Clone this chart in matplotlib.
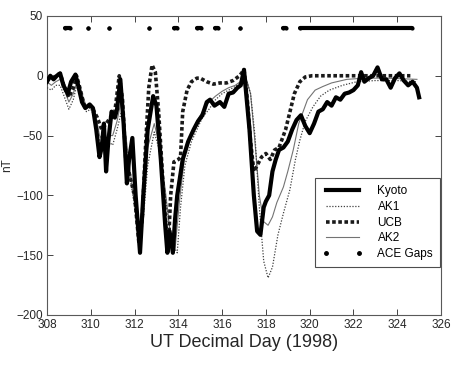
import matplotlib
matplotlib.use('Agg')
import matplotlib.pyplot as plt
from matplotlib.lines import Line2D

plt.rcParams['font.family'] = ['Liberation Sans', 'DejaVu Sans']

# Kyoto Dst
kyoto_t = [308.0, 308.15, 308.3, 308.45, 308.6, 308.75, 308.95, 309.1, 309.3, 309.45,
           309.6, 309.75, 309.95, 310.1, 310.25, 310.4, 310.5, 310.6, 310.7, 310.8,
           310.95, 311.1, 311.2, 311.35, 311.5, 311.65, 311.75, 311.9, 312.05, 312.25,
           312.4, 312.6, 312.85, 313.0, 313.2, 313.4, 313.5, 313.6, 313.75, 313.85,
           313.95, 314.2, 314.45, 314.7, 314.9, 315.1, 315.3, 315.45, 315.65, 315.9,
           316.1, 316.3, 316.5, 316.7, 316.85, 317.0, 317.1, 317.25, 317.45, 317.6,
           317.75, 317.9, 318.0, 318.15, 318.3, 318.45, 318.6, 318.8, 319.0, 319.2,
           319.4, 319.6, 319.8, 320.0, 320.2, 320.4, 320.6, 320.8, 321.0, 321.2,
           321.4, 321.6, 321.8, 322.0, 322.2, 322.35, 322.5, 322.7, 322.9, 323.1,
           323.3, 323.5, 323.7, 323.9, 324.1, 324.3, 324.5, 324.7, 324.9, 325.0]
kyoto_v = [-5, 0, -3, 0, 2, -8, -15, -5, 1, -10,
           -22, -27, -24, -27, -45, -68, -60, -40, -80, -55,
           -30, -35, -28, -3, -40, -90, -70, -52, -100, -148,
           -100, -45, -17, -25, -70, -125, -148, -130, -148, -120,
           -100, -70, -55, -45, -38, -33, -22, -20, -25, -22,
           -26, -15, -14, -10, -8, 5, -15, -45, -100, -130,
           -133, -110, -105, -100, -80, -70, -62, -60, -55, -45,
           -37, -33, -42, -48, -40, -30, -28, -22, -25, -18,
           -20, -15, -14, -12, -8, 3, -5, -2, 0, 7,
           -3, -3, -10, -2, 2, -4, -8, -5, -10, -18]

# AK1 model
ak1_t = [308.0, 308.2, 308.4, 308.6, 308.8, 309.0, 309.2, 309.4, 309.6, 309.8,
         310.0, 310.2, 310.4, 310.6, 310.8, 311.0, 311.2, 311.4, 311.6, 311.8,
         312.0, 312.2, 312.4, 312.6, 312.9, 313.1, 313.4, 313.7, 313.95, 314.1,
         314.3, 314.6, 314.85, 315.1, 315.4, 315.7, 316.0, 316.3, 316.6, 316.9,
         317.1, 317.3, 317.5, 317.7, 317.9, 318.1, 318.3, 318.55, 318.8, 319.1,
         319.35, 319.55, 319.8, 320.15, 320.5, 320.9, 321.5, 322.15, 323.0, 324.0, 324.9]
ak1_v = [-10, -12, -8, -8, -18, -28, -20, -5, -18, -30,
         -28, -35, -55, -60, -55, -58, -45, -30, -55, -85,
         -110, -140, -120, -75, -47, -60, -100, -140, -148, -110,
         -75, -55, -45, -35, -28, -20, -15, -12, -9, -5,
         -3, -15, -50, -110, -155, -169, -160, -133, -115, -95,
         -70, -54, -38, -26, -17, -12, -8, -5, -4, -4, -5]

# UCB model
ucb_t = [308.0, 308.2, 308.4, 308.6, 308.8, 309.0, 309.2, 309.35, 309.5, 309.7,
         309.9, 310.1, 310.3, 310.5, 310.7, 310.9, 311.1, 311.3, 311.45, 311.6,
         311.8, 312.0, 312.2, 312.35, 312.5, 312.65, 312.8, 312.95, 313.1, 313.3,
         313.45, 313.55, 313.65, 313.8, 314.0, 314.1, 314.2, 314.4, 314.6, 314.85,
         315.0, 315.3, 315.6, 315.9, 316.2, 316.5, 316.8, 317.0, 317.15, 317.3,
         317.45, 317.6, 317.8, 318.0, 318.2, 318.4, 318.6, 318.9, 319.1, 319.3,
         319.55, 319.8, 320.1, 321.0, 322.0, 323.0, 324.0, 324.6]
ucb_v = [-2, -3, 0, 2, -10, -18, -10, 0, -10, -25,
         -25, -28, -35, -45, -40, -35, -30, 0, -20, -70,
         -85, -100, -140, -120, -60, -10, 9, 3, -30, -90,
         -130, -140, -100, -72, -70, -68, -30, -12, -5, -2,
         -2, -5, -7, -6, -6, -4, 0, 5, -20, -55,
         -80, -75, -68, -65, -70, -62, -60, -45, -30, -15,
         -5, -1, 0, 0, 0, 0, 0, 0]

# AK2 model
ak2_t = [308.0, 308.2, 308.4, 308.6, 308.8, 309.0, 309.2, 309.4, 309.6, 309.8,
         310.0, 310.2, 310.4, 310.6, 310.8, 311.0, 311.2, 311.4, 311.6, 311.8,
         312.0, 312.2, 312.4, 312.6, 312.9, 313.1, 313.4, 313.65, 313.85, 314.05,
         314.3, 314.6, 314.85, 315.1, 315.4, 315.7, 316.0, 316.3, 316.6, 316.9,
         317.1, 317.3, 317.5, 317.7, 317.9, 318.1, 318.3, 318.5, 318.8, 319.0,
         319.25, 319.5, 319.9, 320.25, 320.6, 321.0, 321.7, 322.5, 323.5, 324.9]
ak2_v = [-5, -8, -5, -3, -12, -22, -15, -3, -15, -26,
         -25, -30, -50, -55, -50, -50, -38, -20, -50, -80,
         -105, -135, -110, -60, -40, -55, -95, -135, -145, -105,
         -65, -48, -38, -30, -22, -17, -13, -10, -8, -4,
         -2, -15, -55, -100, -122, -125, -118, -106, -93, -80,
         -62, -40, -20, -12, -9, -6, -3, -2, -2, -3]

# ACE data gaps (start, end day), drawn at nT = 40
gap_start = [308.8, 309.87, 310.83, 312.66, 313.82, 314.87, 315.67, 316.8, 318.77, 319.57]
gap_end = [309.07, 309.87, 310.83, 312.66, 313.93, 315.03, 315.83, 316.8, 318.93, 324.68]
gap_level = 40

fig = plt.figure(figsize=(4.58, 3.71), dpi=100)
ax = fig.add_axes([0.1026, 0.151, 0.8603, 0.806])

ax.plot(ak2_t, ak2_v, color='0.45', lw=0.8, label='AK2', zorder=2)
ax.plot(ak1_t, ak1_v, color='0.25', lw=0.9, ls=(0, (1, 1.3)), label='AK1', zorder=3)
ax.plot(ucb_t, ucb_v, color='0.1', lw=2.6, ls=(0, (1, 0.7)), label='UCB', zorder=4)
ax.plot(kyoto_t, kyoto_v, color='black', lw=3.0, label='Kyoto', zorder=5)

for s, e in zip(gap_start, gap_end):
    ax.plot([s, e], [gap_level, gap_level], color='black', lw=3.0,
            marker='o', ms=3.0, mew=0, solid_capstyle='round', zorder=5)

ax.set_xlim(308, 326)
ax.set_ylim(-200, 50)
ax.set_xticks(range(308, 327, 2))
ax.set_yticks(range(-200, 51, 50))
ax.tick_params(direction='in', top=True, right=True, labelsize=8.5,
               length=4, width=0.6, colors='0.15', pad=3)
for sp in ax.spines.values():
    sp.set_color('0.35')
    sp.set_linewidth(0.8)

ax.set_xlabel('UT Decimal Day (1998)', fontsize=13, color='0.15', labelpad=2)
ax.set_ylabel('nT', fontsize=8.5, color='0.15', labelpad=2)

h = {l.get_label(): l for l in ax.get_lines()}
ace = Line2D([], [], color='black', marker='o', ms=2.5, ls='none')
leg = ax.legend([h['Kyoto'], h['AK1'], h['UCB'], h['AK2'], ace],
                ['Kyoto', 'AK1', 'UCB', 'AK2', 'ACE Gaps'],
                loc='upper left', bbox_to_anchor=(0.68, 0.458), fontsize=8.5,
                fancybox=False, edgecolor='0.3', framealpha=1, numpoints=2,
                handlelength=3.4, labelspacing=0.32, borderpad=0.6,
                handletextpad=1.3, borderaxespad=0)
leg.get_frame().set_linewidth(0.8)

fig.savefig('out.png', dpi=100)
